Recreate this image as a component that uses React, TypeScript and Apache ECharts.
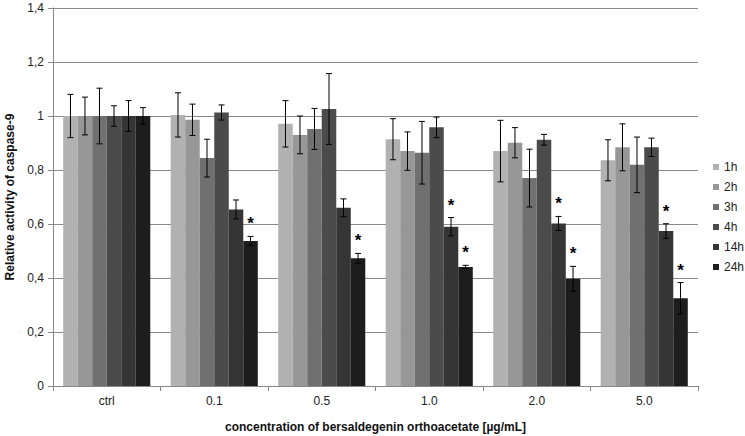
import React, { useEffect, useRef } from "react";
import * as echarts from "echarts";

const categories = ["ctrl", "0.1", "0.5", "1.0", "2.0", "5.0"];
const seriesNames = ["1h", "2h", "3h", "4h", "14h", "24h"];
const colors = ["#b1b1b1", "#979797", "#707070", "#4b4b4b", "#353535", "#1d1d1d"];

// values per series (index = category)
const v1h = [1.0, 1.004, 0.971, 0.914, 0.87, 0.836];
const v2h = [1.0, 0.986, 0.93, 0.87, 0.901, 0.884];
const v3h = [1.0, 0.844, 0.952, 0.864, 0.77, 0.819];
const v4h = [1.0, 1.013, 1.026, 0.958, 0.912, 0.884];
const v14h = [1.0, 0.654, 0.66, 0.59, 0.602, 0.574];
const v24h = [1.0, 0.537, 0.473, 0.441, 0.397, 0.325];

// error (± half-width)
const e1h = [0.08, 0.082, 0.086, 0.076, 0.114, 0.076];
const e2h = [0.07, 0.058, 0.07, 0.071, 0.056, 0.087];
const e3h = [0.103, 0.07, 0.076, 0.116, 0.107, 0.103];
const e4h = [0.038, 0.028, 0.131, 0.038, 0.02, 0.034];
const e14h = [0.057, 0.035, 0.033, 0.034, 0.026, 0.027];
const e24h = [0.031, 0.017, 0.018, 0.006, 0.046, 0.058];

// significance stars
const s1h = [0, 0, 0, 0, 0, 0];
const s2h = [0, 0, 0, 0, 0, 0];
const s3h = [0, 0, 0, 0, 0, 0];
const s4h = [0, 0, 0, 0, 0, 0];
const s14h = [0, 0, 0, 1, 1, 1];
const s24h = [0, 1, 1, 1, 1, 1];

const values = [v1h, v2h, v3h, v4h, v14h, v24h];
const errors = [e1h, e2h, e3h, e4h, e14h, e24h];
const stars = [s1h, s2h, s3h, s4h, s14h, s24h];

const yTicks = [0, 0.2, 0.4, 0.6, 0.8, 1.0, 1.2, 1.4];

const CAT_GAP = 0.19;
const FONT = "'Liberation Sans', Arial, sans-serif";

export default function App() {
  const ref = useRef<HTMLDivElement>(null);
  useEffect(() => {
    if (!ref.current) return;
    const chart = echarts.init(ref.current, null, { renderer: "svg" });
    const n = seriesNames.length;

    const barSeries = seriesNames.map((name, i) => ({
      type: "bar",
      name,
      data: values[i],
      itemStyle: { color: colors[i] },
      barGap: "0%",
      barCategoryGap: CAT_GAP * 100 + "%",
      z: 2,
    }));

    const errSeries = seriesNames.map((name, i) => ({
      type: "custom",
      name: name + "_err",
      z: 5,
      data: values[i].map((v, j) => [j, v, errors[i][j], stars[i][j]]),
      renderItem: (params: any, api: any) => {
        const cx = api.value(0);
        const v = api.value(1);
        const e = api.value(2);
        const s = api.value(3);
        const band = api.size([1, 0])[0];
        const barW = (band * (1 - CAT_GAP)) / n;
        const center = api.coord([cx, v]);
        const x = center[0] - (band * (1 - CAT_GAP)) / 2 + (i + 0.5) * barW;
        const top = api.coord([cx, v + e])[1];
        const bot = api.coord([cx, v - e])[1];
        const cap = 3;
        const style = { stroke: "#000", lineWidth: 1 };
        const children: any[] = [
          { type: "line", shape: { x1: x, y1: top, x2: x, y2: bot }, style },
          { type: "line", shape: { x1: x - cap, y1: top, x2: x + cap, y2: top }, style },
          { type: "line", shape: { x1: x - cap, y1: bot, x2: x + cap, y2: bot }, style },
        ];
        if (s) {
          children.push({
            type: "text",
            x: x,
            y: top - 4,
            style: {
              text: "*",
              fill: "#000",
              font: "bold 17px " + FONT,
              textAlign: "center",
              textVerticalAlign: "bottom",
            },
          });
        }
        return { type: "group", children };
      },
    }));

    chart.setOption({
      animation: false,
      textStyle: { fontFamily: FONT },
      grid: { left: 53, right: 47, top: 8, bottom: 50, containLabel: false, outerBoundsMode: "none" },
      legend: {
        data: seriesNames,
        orient: "vertical",
        left: 713,
        top: 160,
        padding: 0,
        icon: "rect",
        itemWidth: 6,
        itemHeight: 6,
        itemGap: 6,
        textStyle: { fontSize: 12, color: "#222", fontFamily: FONT, lineHeight: 14 },
      },
      xAxis: {
        type: "category",
        data: categories,
        axisLine: { lineStyle: { color: "#888" } },
        axisTick: { show: true, length: 5, lineStyle: { color: "#888" } },
        axisLabel: { color: "#222", fontSize: 12, margin: 9 },
        name: "concentration of bersaldegenin orthoacetate [\u00b5g/mL]",
        nameLocation: "middle",
        nameGap: 35,
        nameTextStyle: { fontWeight: "bold", fontSize: 12, color: "#111" },
        splitLine: { show: false },
      },
      yAxis: {
        type: "value",
        min: 0,
        max: 1.4,
        interval: 0.2,
        axisLine: { show: true, lineStyle: { color: "#888" } },
        axisTick: { show: true, length: 5, lineStyle: { color: "#888" } },
        splitLine: { lineStyle: { color: "#8a8a8a", width: 1 } },
        axisLabel: {
          color: "#222",
          fontSize: 12,
          margin: 9,
          formatter: (val: number) => {
            const t = yTicks.find((k) => Math.abs(k - val) < 1e-6);
            const u = t === undefined ? val : t;
            if (Math.abs(u) < 1e-6) return "0";
            if (Math.abs(u - 1) < 1e-6) return "1";
            return u.toFixed(1).replace(".", ",");
          },
        },
        name: "Relative activity of caspase-9",
        nameLocation: "middle",
        nameGap: 36,
        nameRotate: 90,
        nameTextStyle: { fontWeight: "bold", fontSize: 12, color: "#111" },
      },
      series: [...barSeries, ...errSeries],
    });
    return () => chart.dispose();
  }, []);
  return (
    <div style={{ position: "absolute", left: 0, top: 0, width: 745, height: 436, overflow: "hidden" }}>
      <div ref={ref} style={{ width: 745, height: 436 }} />
    </div>
  );
}
